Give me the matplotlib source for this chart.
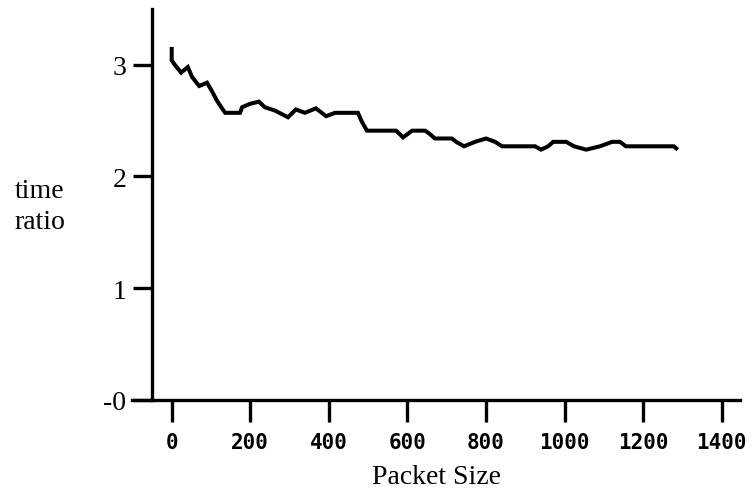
import matplotlib
matplotlib.use("Agg")
import matplotlib.pyplot as plt

# values
packet_size = [0, 0, 8, 24, 41, 52, 70, 90, 103, 115, 128, 136, 174, 179, 199,
               222, 237, 263, 296, 316, 339, 367, 393, 416, 474, 484, 497, 571,
               589, 612, 645, 657, 670, 713, 724, 744, 772, 800, 823, 841, 925,
               940, 958, 971, 1004, 1024, 1055, 1090, 1121, 1141, 1156, 1278, 1288]
time_ratio = [3.16, 3.04, 3.00, 2.93, 2.98, 2.89, 2.81, 2.84, 2.76, 2.68, 2.61,
              2.57, 2.57, 2.62, 2.65, 2.67, 2.62, 2.59, 2.53, 2.60, 2.57, 2.61,
              2.54, 2.57, 2.57, 2.49, 2.41, 2.41, 2.35, 2.41, 2.41, 2.38, 2.34,
              2.34, 2.31, 2.27, 2.31, 2.34, 2.31, 2.27, 2.27, 2.24, 2.27, 2.31,
              2.31, 2.27, 2.24, 2.27, 2.31, 2.31, 2.27, 2.27, 2.24]

x_ticks = [0, 200, 400, 600, 800, 1000, 1200, 1400]
y_ticks = [0, 1, 2, 3]
y_tick_labels = ["-0", "1", "2", "3"]

W, H = 752, 489
fig = plt.figure(figsize=(W / 100, H / 100), dpi=100)

# axes box in pixels: left 132, right 740, top 10, bottom 400.7
left, right, top, bottom = 132, 740, 10, 400.7
ax = fig.add_axes([left / W, 1 - bottom / H, (right - left) / W, (bottom - top) / H])

px_per_unit = 0.3929
ax.set_xlim((left - 171.7) / px_per_unit, (right - 171.7) / px_per_unit)
ax.set_ylim(0, 3.5)

ax.plot(packet_size, time_ratio, color="black", lw=2.9,
        solid_joinstyle="miter", solid_capstyle="butt")

for side in ["top", "right"]:
    ax.spines[side].set_visible(False)
ax.spines["left"].set_position(("data", (151.5 - 171.7) / px_per_unit))
ax.spines["left"].set_linewidth(2.4)
ax.spines["bottom"].set_linewidth(2.4)

ax.set_xticks(x_ticks)
ax.set_xticklabels([str(v) for v in x_ticks], family="DejaVu Sans Mono",
                   fontweight="bold", fontsize=15)
ax.set_yticks(y_ticks)
ax.set_yticklabels(y_tick_labels, family="Liberation Serif", fontsize=20)

ax.tick_params(axis="x", direction="out", length=16, width=2.4, pad=7)
ax.tick_params(axis="y", direction="out", length=14, width=2.4, pad=4)

ax.set_xlabel("Packet Size", family="Liberation Serif", fontsize=20, labelpad=9)

fig.text(40 / W, 1 - 198 / H, "time", family="Liberation Serif", fontsize=20,
         ha="center", va="baseline")
fig.text(40 / W, 1 - 229 / H, "ratio", family="Liberation Serif", fontsize=20,
         ha="center", va="baseline")

fig.savefig("out.png", dpi=100)
